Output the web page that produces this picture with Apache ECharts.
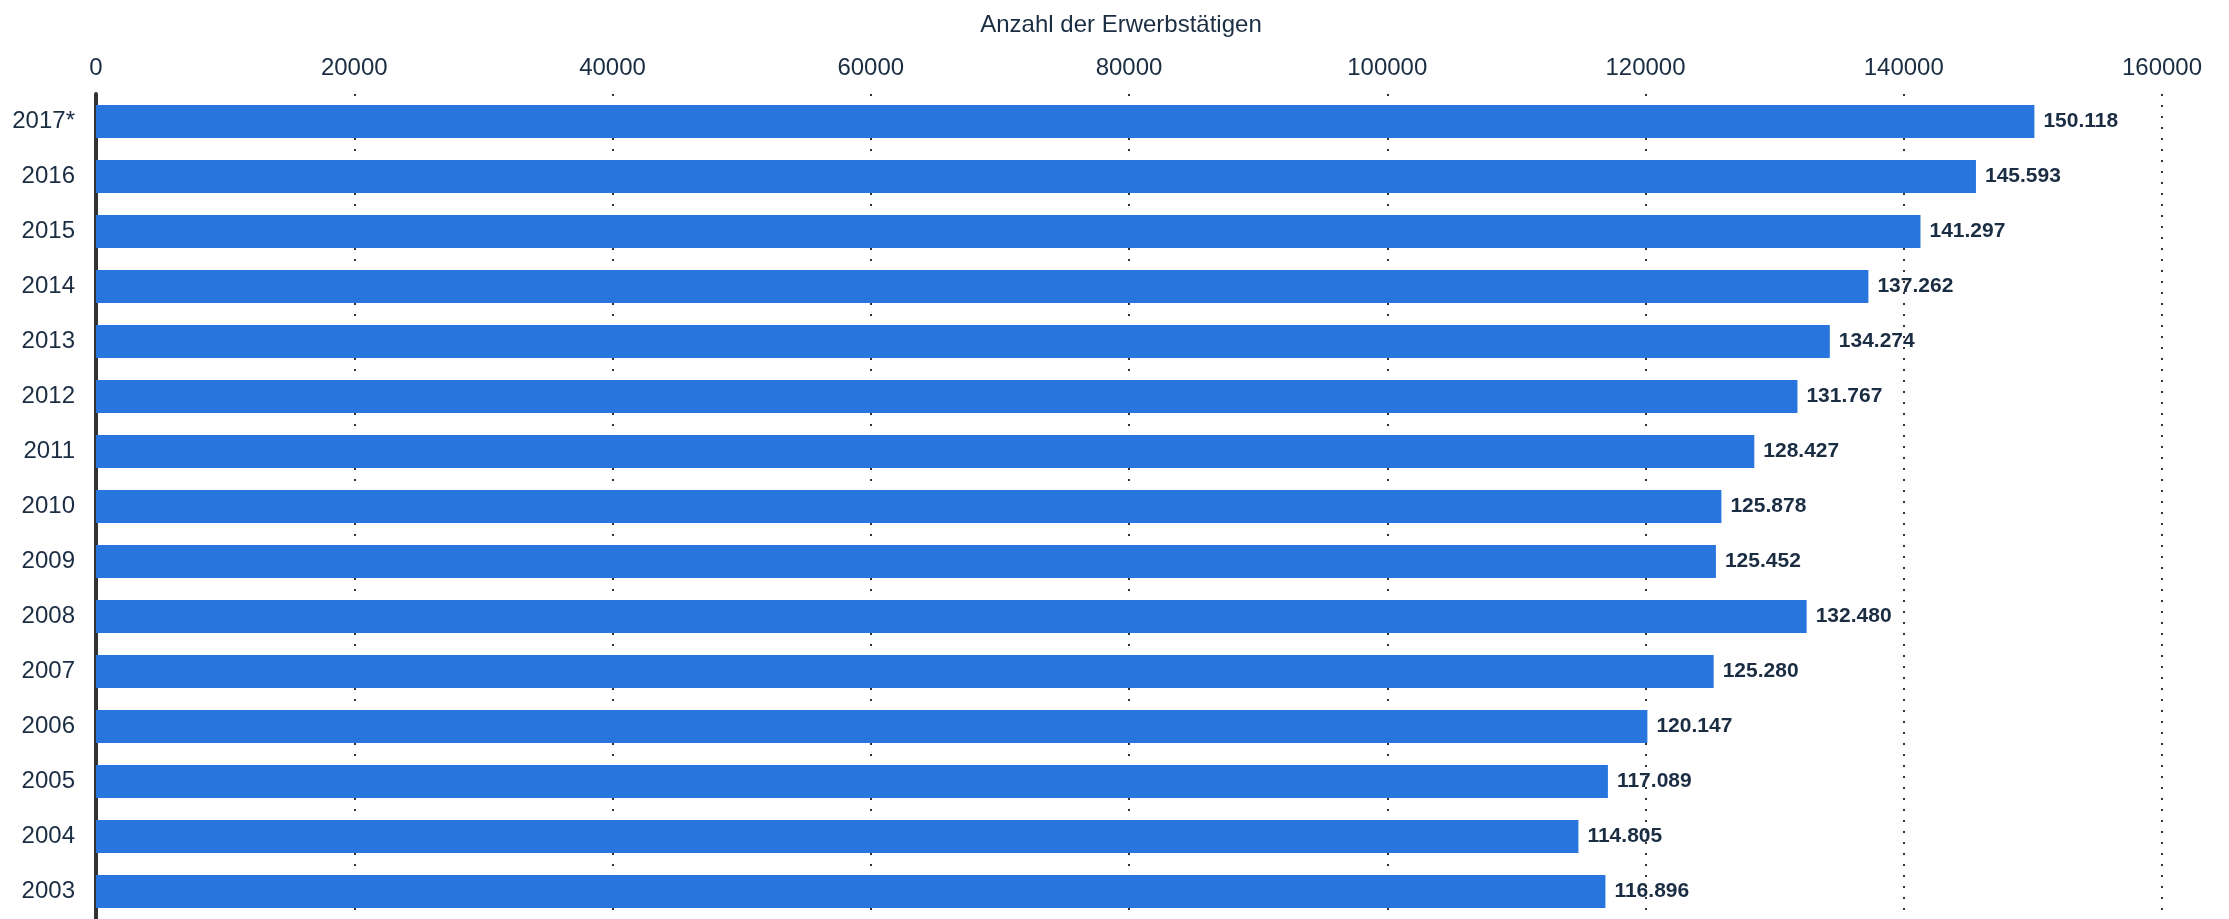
<!DOCTYPE html>
<html>
<head>
<meta charset="utf-8">
<title>Anzahl der Erwerbstätigen</title>
<script src="https://cdn.jsdelivr.net/npm/echarts@6/dist/echarts.min.js"></script>
<style>
  html, body { margin: 0; padding: 0; background: #fff; }
  #chart { width: 2229px; height: 919px; }
</style>
</head>
<body>
<div id="chart"></div>
<script>
// Jahre von oben nach unten
var years = ['2017*', '2016', '2015', '2014', '2013', '2012', '2011', '2010',
  '2009', '2008', '2007', '2006', '2005', '2004', '2003']
// Erwerbstätige
var workers = [150118, 145593, 141297, 137262, 134274, 131767, 128427, 125878,
  125452, 132480, 125280, 120147, 117089, 114805, 116896]
var axisTitle = 'Anzahl der Erwerbstätigen'
var xMax = 160000
var xStep = 20000

var font = 'Liberation Sans, Arial, Helvetica, sans-serif'
var textColor = '#1b2d42'

// 150118 -> 150.118
function deNum (v) {
  return String(v).replace(/\B(?=(\d{3})+(?!\d))/g, '.')
}

var chart = echarts.init(document.getElementById('chart'))
var option = {
  animation: false,
  textStyle: { fontFamily: font },
  title: {
    text: axisTitle,
    left: 1116,
    top: 8,
    textAlign: 'center',
    textStyle: {
      color: textColor,
      fontFamily: font,
      fontSize: 24,
      fontWeight: 'normal'
    }
  },
  grid: {
    left: 96,
    right: 67,
    top: 94,
    height: 829
  },
  xAxis: {
    type: 'value',
    position: 'top',
    min: 0,
    max: xMax,
    interval: xStep,
    axisLine: { show: false },
    axisTick: { show: false },
    axisLabel: {
      color: textColor,
      fontFamily: font,
      fontSize: 24,
      margin: 14,
      formatter: function (v) { return String(v) }
    },
    splitLine: {
      show: true,
      lineStyle: {
        color: '#333',
        width: 2,
        type: [2, 9]
      }
    }
  },
  yAxis: {
    type: 'category',
    inverse: true,
    data: years,
    axisLine: {
      show: true,
      lineStyle: { color: '#333', width: 4 }
    },
    axisTick: { show: false },
    axisLabel: {
      color: textColor,
      fontFamily: font,
      fontSize: 24,
      margin: 21
    },
    splitLine: { show: false }
  },
  series: [
    {
      name: axisTitle,
      type: 'bar',
      data: workers,
      barWidth: 33,
      itemStyle: { color: '#2876dd' },
      label: {
        show: true,
        position: 'right',
        distance: 9,
        color: textColor,
        fontFamily: font,
        fontSize: 21,
        fontWeight: 'bold',
        formatter: function (p) { return deNum(p.value) }
      }
    }
  ]
}
chart.setOption(option)
</script>
</body>
</html>
